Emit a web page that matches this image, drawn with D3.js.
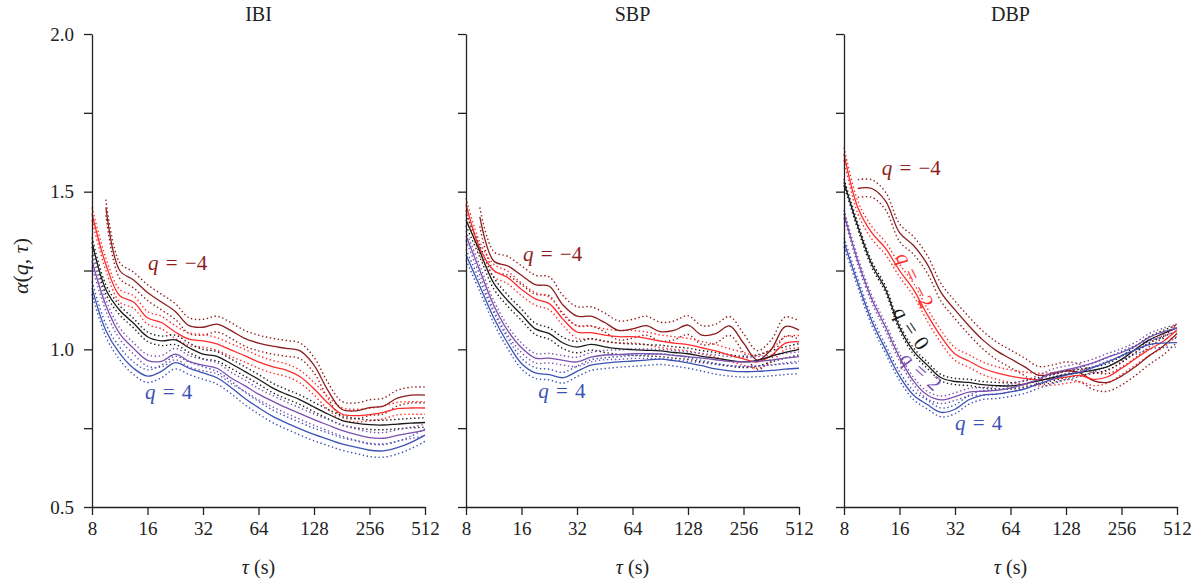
<!DOCTYPE html>
<html>
<head>
<meta charset="utf-8">
<script src="https://cdn.jsdelivr.net/npm/d3@7/dist/d3.min.js"></script>
<style>
  body { margin: 0; background: #fff; }
  svg text { font-family: "Liberation Serif", "DejaVu Serif", serif; fill: #222; }
  .axis path, .axis line { stroke: #222; stroke-width: 1.3; }
</style>
</head>
<body>
<svg id="chart" width="1201" height="580"></svg>
<script>
/*
  Multiscale DFA exponent alpha(q, tau) for IBI, SBP and DBP
*/

// time scales, quarter-octave steps from 8 to 512 s
const tau = [8, 9.51, 11.31, 13.45, 16, 19.03, 22.63, 26.91, 32, 38.05, 45.25, 53.82,
  64, 76.11, 90.51, 107.63, 128, 152.22, 181.02, 215.27, 256, 304.44, 362.04, 430.54, 512];
const tauTicks = [8, 16, 32, 64, 128, 256, 512];
const alphaTicks = [0.5, 0.75, 1.0, 1.25, 1.5, 1.75, 2.0];
const alphaLabels = [0.5, 1.0, 1.5, 2.0];
const panelNames = ["IBI", "SBP", "DBP"];
const qValues = [-4, -2, 0, 2, 4];
const qColors = ["#8c1d1d", "#ff2b2b", "#1a1a1a", "#7a4fae", "#3b52b4"];

// IBI
const ibiQm4 = [null, 1.45, 1.25, 1.22, 1.18, 1.15, 1.12, 1.075, 1.07, 1.08, 1.06, 1.035, 1.02,
  1.01, 1.003, 0.995, 0.95, 0.87, 0.81, 0.805, 0.815, 0.82, 0.845, 0.855, 0.855];
const ibiQm2 = [1.43, 1.27, 1.17, 1.15, 1.10, 1.085, 1.055, 1.032, 1.027, 1.017, 0.998, 0.98, 0.96,
  0.945, 0.934, 0.913, 0.875, 0.83, 0.795, 0.79, 0.793, 0.80, 0.812, 0.814, 0.814];
const ibiQ0 = [1.34, 1.19, 1.124, 1.083, 1.04, 1.027, 1.03, 1.005, 0.985, 0.978, 0.955, 0.93, 0.905,
  0.878, 0.858, 0.84, 0.817, 0.795, 0.775, 0.766, 0.761, 0.76, 0.763, 0.766, 0.768];
const ibiQ2 = [1.28, 1.14, 1.05, 1.003, 0.965, 0.962, 0.985, 0.962, 0.95, 0.94, 0.91, 0.885, 0.858,
  0.836, 0.815, 0.796, 0.777, 0.76, 0.743, 0.73, 0.72, 0.718, 0.727, 0.735, 0.744];
const ibiQ4 = [1.195, 1.06, 0.987, 0.94, 0.915, 0.93, 0.958, 0.94, 0.925, 0.91, 0.88, 0.845, 0.815,
  0.788, 0.767, 0.748, 0.73, 0.715, 0.70, 0.69, 0.68, 0.678, 0.688, 0.705, 0.728];
const ibiCI = [0.025, 0.02, 0.015, 0.018, 0.02];

// SBP
const sbpQm4 = [null, 1.42, 1.28, 1.265, 1.235, 1.205, 1.2, 1.14, 1.105, 1.105, 1.085, 1.06, 1.065,
  1.075, 1.056, 1.06, 1.077, 1.045, 1.05, 1.074, 1.02, 0.966, 1.0, 1.072, 1.061];
const sbpQm2 = [1.46, 1.32, 1.25, 1.228, 1.19, 1.16, 1.145, 1.095, 1.055, 1.053, 1.045, 1.04, 1.04,
  1.035, 1.026, 1.02, 1.015, 1.005, 0.995, 0.982, 0.97, 0.96, 0.98, 1.019, 1.024];
const sbpQ0 = [1.41, 1.31, 1.21, 1.155, 1.11, 1.065, 1.05, 1.02, 1.007, 1.016, 1.008, 1.002, 0.999,
  0.997, 0.995, 0.99, 0.986, 0.978, 0.972, 0.965, 0.96, 0.965, 0.978, 0.99, 1.0];
const sbpQ2 = [1.36, 1.25, 1.14, 1.06, 1.005, 0.972, 0.972, 0.965, 0.96, 0.975, 0.982, 0.983, 0.986,
  0.986, 0.985, 0.981, 0.977, 0.972, 0.967, 0.962, 0.96, 0.962, 0.966, 0.972, 0.977];
const sbpQ4 = [1.30, 1.2, 1.1, 1.02, 0.955, 0.925, 0.92, 0.91, 0.93, 0.95, 0.956, 0.96, 0.963,
  0.966, 0.969, 0.964, 0.957, 0.948, 0.938, 0.932, 0.929, 0.93, 0.933, 0.937, 0.94];
const sbpCI = [0.03, 0.02, 0.018, 0.015, 0.017];

// DBP
const dbpQm4 = [null, 1.51, 1.51, 1.47, 1.37, 1.33, 1.27, 1.18, 1.125, 1.075, 1.03, 0.995, 0.97,
  0.945, 0.918, 0.922, 0.932, 0.925, 0.9, 0.895, 0.915, 0.945, 0.98, 1.01, 1.05];
const dbpQm2 = [1.62, 1.45, 1.37, 1.32, 1.25, 1.19, 1.11, 1.04, 0.985, 0.963, 0.94, 0.925, 0.915,
  0.908, 0.904, 0.906, 0.912, 0.917, 0.905, 0.913, 0.94, 0.97, 1.0, 1.025, 1.062];
const dbpQ0 = [1.53, 1.39, 1.27, 1.19, 1.07, 0.995, 0.95, 0.91, 0.898, 0.895, 0.888, 0.885, 0.884,
  0.89, 0.9, 0.91, 0.92, 0.927, 0.934, 0.945, 0.968, 1.0, 1.03, 1.05, 1.068];
const dbpQ2 = [1.43, 1.28, 1.16, 1.07, 0.975, 0.90, 0.855, 0.84, 0.85, 0.864, 0.867, 0.87, 0.877,
  0.89, 0.905, 0.925, 0.935, 0.945, 0.958, 0.975, 0.99, 1.01, 1.038, 1.055, 1.067];
const dbpQ4 = [1.34, 1.21, 1.09, 1.0, 0.915, 0.855, 0.825, 0.80, 0.81, 0.84, 0.855, 0.858, 0.865,
  0.874, 0.89, 0.905, 0.918, 0.928, 0.943, 0.96, 0.98, 0.998, 1.015, 1.02, 1.021];
const dbpCI = [0.028, 0.02, 0.01, 0.012, 0.014];

// curve labels: panel, series index, tau, alpha, rotation
const labelPanel = [0, 0, 1, 1, 2, 2, 2, 2, 2];
const labelSeries = [0, 4, 0, 4, 0, 1, 2, 3, 4];
const labelTau = [16.1, 15.5, 16.3, 19.7, 12.8, 19.4, 18.5, 20.9, 32];
const labelAlpha = [1.252, 0.842, 1.281, 0.845, 1.553, 1.22, 1.068, 0.931, 0.744];
const labelAngle = [0, 0, 0, 0, 0, 63, 56, 42, 0];

const svg = d3.select("#chart");
const panelLeft = [92, 466, 844];
const panelWidth = 333;
const plotTop = 34, plotBottom = 507;

const panels = [
  { series: [ibiQm4, ibiQm2, ibiQ0, ibiQ2, ibiQ4], ci: ibiCI },
  { series: [sbpQm4, sbpQm2, sbpQ0, sbpQ2, sbpQ4], ci: sbpCI },
  { series: [dbpQm4, dbpQm2, dbpQ0, dbpQ2, dbpQ4], ci: dbpCI },
];

const y = d3.scaleLinear().domain([0.5, 2.0]).range([plotBottom, plotTop]);

panels.forEach((panel, p) => {
  const x = d3.scaleLog().base(2).domain([8, 512])
    .range([panelLeft[p], panelLeft[p] + panelWidth]);

  const line = d3.line()
    .defined((d) => d[1] != null)
    .x((d) => x(d[0]))
    .y((d) => y(d[1]))
    .curve(d3.curveCatmullRom.alpha(0.5));

  const g = svg.append("g");

  // dotted confidence bands first, then solid means
  panel.series.forEach((vals, k) => {
    const ci = panel.ci[k];
    [ci, -ci].forEach((off) => {
      g.append("path")
        .datum(tau.map((t, i) => [t, vals[i] == null ? null : vals[i] + off]))
        .attr("d", line)
        .attr("fill", "none")
        .attr("stroke", qColors[k])
        .attr("stroke-width", 1.4)
        .attr("stroke-dasharray", "1.4 2.6");
    });
  });
  panel.series.forEach((vals, k) => {
    g.append("path")
      .datum(tau.map((t, i) => [t, vals[i]]))
      .attr("d", line)
      .attr("fill", "none")
      .attr("stroke", qColors[k])
      .attr("stroke-width", 1.3);
  });

  // axes
  svg.append("g")
    .attr("class", "axis")
    .attr("transform", `translate(${panelLeft[p]},0)`)
    .call(d3.axisLeft(y).tickValues(alphaTicks).tickSize(8).tickSizeOuter(0).tickPadding(10)
      .tickFormat((d) => (p === 0 && alphaLabels.includes(d) ? d3.format(".1f")(d) : "")))
    .call((a) => a.selectAll("text").attr("font-size", 19));

  svg.append("g")
    .attr("class", "axis")
    .attr("transform", `translate(0,${plotBottom})`)
    .call(d3.axisBottom(x).tickValues(tauTicks).tickSize(8).tickSizeOuter(0).tickPadding(7)
      .tickFormat(d3.format("d")))
    .call((a) => a.selectAll("text").attr("font-size", 19));

  const cx = panelLeft[p] + panelWidth / 2;
  svg.append("text")
    .attr("x", cx).attr("y", 21)
    .attr("text-anchor", "middle")
    .attr("font-size", 20)
    .text(panelNames[p]);

  const xl = svg.append("text")
    .attr("x", cx).attr("y", 574)
    .attr("text-anchor", "middle")
    .attr("font-size", 20);
  xl.append("tspan").attr("font-style", "italic").text("τ");
  xl.append("tspan").text(" (s)");

  // curve labels for this panel
  labelPanel.forEach((lp, j) => {
    if (lp !== p) return;
    const k = labelSeries[j];
    const rot = labelAngle[j];
    const t = svg.append("text")
      .attr("transform", `translate(${x(labelTau[j])},${y(labelAlpha[j])}) rotate(${rot})`)
      .attr("text-anchor", rot ? "middle" : "start")
      .attr("dominant-baseline", rot ? "central" : "auto")
      .attr("font-size", 21)
      .attr("word-spacing", 2)
      .style("fill", qColors[k]);
    t.append("tspan").attr("font-style", "italic").text("q");
    t.append("tspan").text(" = " + (qValues[k] < 0 ? "\u2212" + Math.abs(qValues[k]) : qValues[k]));
  });
});

// y axis title
const yl = svg.append("text")
  .attr("transform", "translate(28,266) rotate(-90)")
  .attr("text-anchor", "middle")
  .attr("font-size", 22);
yl.append("tspan").attr("font-style", "italic").text("α");
yl.append("tspan").text("(");
yl.append("tspan").attr("font-style", "italic").text("q");
yl.append("tspan").text(", ");
yl.append("tspan").attr("font-style", "italic").text("τ");
yl.append("tspan").text(")");
</script>
</body>
</html>
